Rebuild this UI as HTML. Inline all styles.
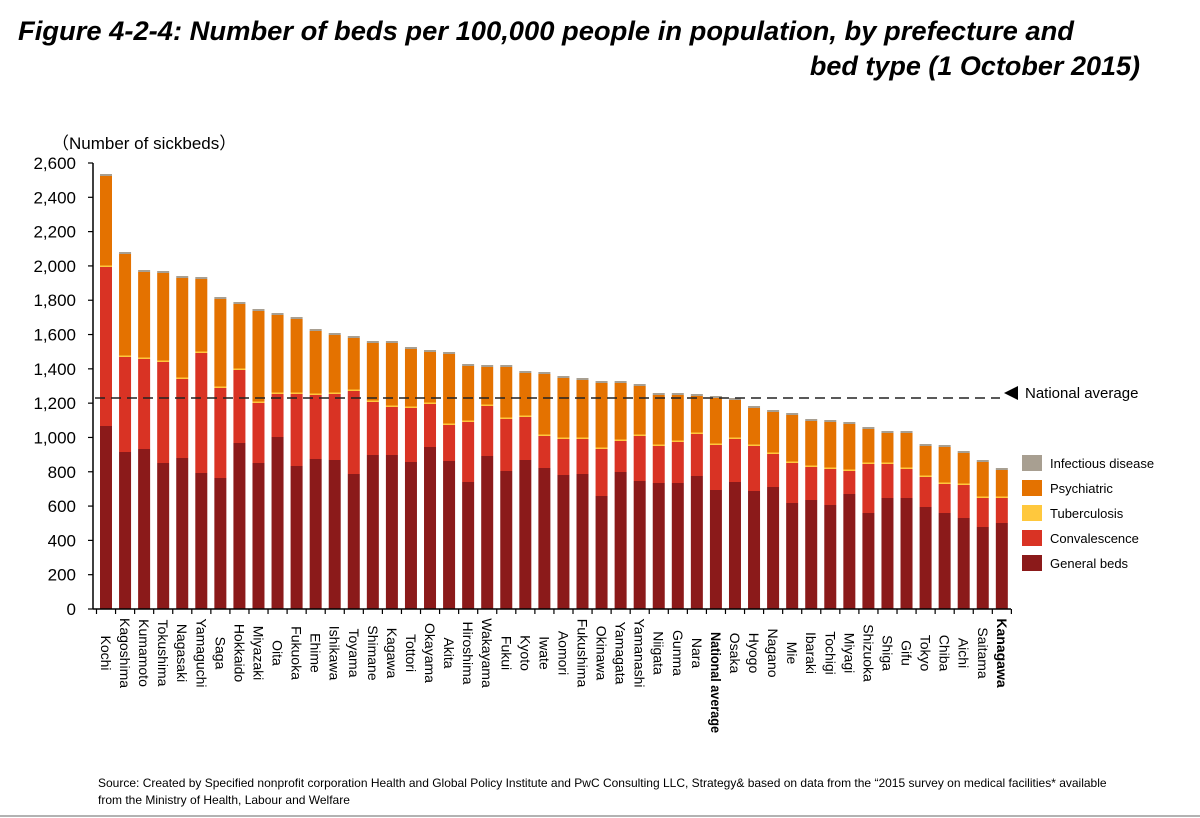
<!DOCTYPE html>
<html><head><meta charset="utf-8"><style>
html,body{margin:0;padding:0;background:#fff;}
svg{display:block;font-family:"Liberation Sans",sans-serif;}
</style></head><body>
<svg id="s" width="1200" height="818" viewBox="0 0 1200 818" xmlns="http://www.w3.org/2000/svg">
<text x="18" y="40" font-size="27" font-weight="bold" font-style="italic" fill="#000" textLength="1056" lengthAdjust="spacingAndGlyphs">Figure 4-2-4: Number of beds per 100,000 people in population, by prefecture and</text>
<text x="1140" y="75" font-size="27" font-weight="bold" font-style="italic" fill="#000" text-anchor="end">bed type (1 October 2015)</text>
<text x="52" y="149" font-size="17" fill="#000">（Number of sickbeds）</text>
<g id="g"></g>
<text x="98" y="787" font-size="12" fill="#000">Source: Created by Specified nonprofit corporation Health and Global Policy Institute and PwC Consulting LLC, Strategy&amp; based on data from the “2015 survey on medical facilities* available</text>
<text x="98" y="804" font-size="12" fill="#000">from the Ministry of Health, Labour and Welfare</text>
<line x1="0" y1="816" x2="1200" y2="816" stroke="#666" stroke-width="1"/>
</svg>
<script>
var d=[
["Kochi",176,267,426],["Kagoshima",254,357,452],["Kumamoto",272,359,449],["Tokushima",273,362,463],
["Nagasaki",278,379,458],["Yamaguchi",279,353,473],["Saga",299,388,478],["Hokkaido",304,370,443],
["Miyazaki",311,403,463],["Oita",315,394,437],["Fukuoka",319,394,466],["Ehime",331,395,459],
["Ishikawa",335,394,460],["Toyama",338,391,474],["Shimane",343,402,455],["Kagawa",343,407,455],
["Tottori",349,408,462],["Okayama",352,404,447],["Akita",354,425,461],["Hiroshima",366,422,482],
["Wakayama",367,406,456],["Fukui",367,419,471],["Kyoto",373,417,460],["Iwate",374,436,468],
["Aomori",378,439,475],["Fukushima",380,439,474],["Okinawa",383,449,496],["Yamagata",383,441,472],
["Yamanashi",386,436,481],["Niigata",395,446,483],["Gunma",395,442,483],["Nara",396,434,476],
["National average",398,445,490],["Osaka",400,439,482],["Hyogo",408,446,491],["Nagano",412,454,487],
["Mie",415,463,503],["Ibaraki",421,467,500],["Tochigi",422,469,505],["Miyagi",424,471,494],
["Shizuoka",429,464,513],["Shiga",433,464,498],["Gifu",433,469,498],["Tokyo",446,477,507],
["Chiba",447,484,513],["Aichi",453,485,518],["Saitama",462,498,527],["Kanagawa",470,498,523]];
var s='',base=609;
s+='<line x1="93" y1="163" x2="93" y2="609" stroke="#000" stroke-width="1.5"/>';
for(var v=0;v<=2600;v+=200){var y=base-v*446/2600;
s+='<line x1="88" y1="'+y+'" x2="93" y2="'+y+'" stroke="#000" stroke-width="1.2"/>';
s+='<text x="76" y="'+(y+6)+'" font-size="17" text-anchor="end">'+v.toLocaleString('en-US')+'</text>';}
var st=19.06;
for(var i=0;i<d.length;i++){var c=106+st*i,x=c-6,r=d[i];
s+='<rect x="'+x+'" y="'+r[3]+'" width="12" height="'+(base-r[3])+'" fill="#8B1A1A"/>';
s+='<rect x="'+x+'" y="'+r[2]+'" width="12" height="'+(r[3]-r[2])+'" fill="#D93324"/>';
s+='<rect x="'+x+'" y="'+(r[2]-1.5)+'" width="12" height="1.5" fill="#FFC83D"/>';
s+='<rect x="'+x+'" y="'+r[1]+'" width="12" height="'+(r[2]-1.5-r[1])+'" fill="#E47200"/>';
s+='<rect x="'+x+'" y="'+(r[1]-2)+'" width="12" height="2" fill="#A89F91"/>';
if(i==32){s+='<text transform="translate('+(c-5)+',632) rotate(90)" font-size="13.5" font-weight="bold" textLength="101" lengthAdjust="spacingAndGlyphs">'+r[0]+'</text>';continue;}
var b=(i==47)?' font-weight="bold"':'';
s+='<text transform="translate('+(c-5)+',653) rotate(90)" font-size="14" text-anchor="middle"'+b+'>'+r[0]+'</text>';}
s+='<line x1="93" y1="609" x2="1011" y2="609" stroke="#000" stroke-width="1.5"/>';
for(var i=0;i<=48;i++){var tx=96.5+st*i;s+='<line x1="'+tx+'" y1="609" x2="'+tx+'" y2="614" stroke="#000" stroke-width="1.2"/>';}
s+='<line x1="95" y1="398" x2="1000" y2="398" stroke="#222" stroke-width="1.6" stroke-dasharray="10,6"/>';
s+='<polygon points="1004,393 1018,386 1018,400" fill="#000"/>';
s+='<text x="1025" y="398" font-size="15">National average</text>';
var lg=[["Infectious disease","#A89F91"],["Psychiatric","#E47200"],["Tuberculosis","#FFC83D"],["Convalescence","#D93324"],["General beds","#8B1A1A"]];
for(var j=0;j<5;j++){var ly=455+j*25;
s+='<rect x="1022" y="'+ly+'" width="20" height="16" fill="'+lg[j][1]+'"/>';
s+='<text x="1050" y="'+(ly+13)+'" font-size="13">'+lg[j][0]+'</text>';}
document.getElementById('g').innerHTML=s;
</script>
</body></html>
